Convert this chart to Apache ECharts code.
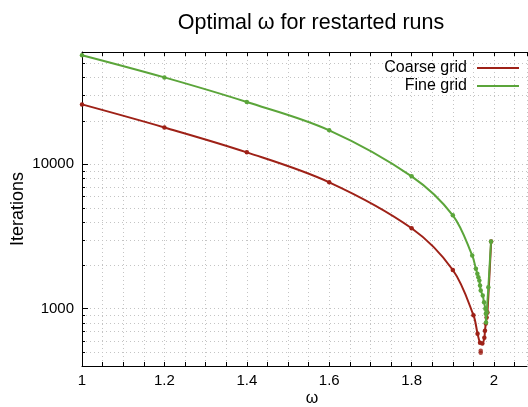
<!DOCTYPE html>
<html>
<head>
<meta charset="utf-8">
<script src="https://cdn.jsdelivr.net/npm/echarts@6/dist/echarts.min.js"></script>
<style>
html,body{margin:0;padding:0;background:#fff;}
#c{width:528px;height:407px;}
</style>
</head>
<body>
<div id="c"></div>
<script>
// ---- data ----
const coarseOmega = [1.0, 1.2, 1.4, 1.6, 1.8, 1.9, 1.95, 1.96, 1.966, 1.9716, 1.9765, 1.978, 1.98, 1.982, 1.984, 1.993];
const coarseIters = [26000, 18000, 12100, 7500, 3600, 1850, 900, 670, 580, 572, 629, 703, 787, 866, 938, 2920];
const coarseExtraOmega = [1.9677, 1.9677];
const coarseExtraIters = [494, 510];

const fineOmega = [1.0, 1.2, 1.4, 1.6, 1.8, 1.9, 1.947, 1.956, 1.9595, 1.962, 1.9643, 1.966, 1.9677, 1.9726, 1.9757, 1.9789, 1.980, 1.9806, 1.9823, 1.9862, 1.9927];
const fineIters = [57000, 40000, 27000, 17200, 8250, 4430, 2334, 1887, 1741, 1649, 1563, 1445, 1334, 1231, 1106, 998, 919, 800, 943, 1406, 2920];

const xTickLabels = ['1', '1.2', '1.4', '1.6', '1.8', '2'];
const yTickLabels = ['1000', '10000'];
const yMinorValues = [500, 600, 700, 800, 900, 2000, 3000, 4000, 5000, 6000, 7000, 8000, 9000, 20000, 30000, 40000, 50000];

const titleText = 'Optimal ω for restarted runs';
const xName = 'ω';
const yName = 'Iterations';
const coarseName = 'Coarse grid';
const fineName = 'Fine grid';

// ---- styling ----
const RED = '#9e2117';
const GREEN = '#5ba53a';
const FONT = 'Liberation Sans, Arial, sans-serif';
const XMIN = 1, XMAX = 2.08, YMIN = 400, YMAX = 60000;

const zip = (a, b) => a.map((v, i) => [v, b[i]]);
const isMajorX = v => Math.abs(v * 5 - Math.round(v * 5)) < 1e-6;

const gridStyle = { color: '#c4c4c4', width: 1, type: [1, 3] };

const chart = echarts.init(document.getElementById('c'));
chart.setOption({
  animation: false,
  backgroundColor: '#fff',
  title: {
    text: titleText,
    left: 306, top: 7, textAlign: 'center',
    textStyle: { fontFamily: FONT, fontSize: 21.5, fontWeight: 'normal', color: '#000' }
  },
  legend: [
    {
      data: [coarseName], right: 9, top: 60, orient: 'vertical', align: 'right',
      padding: 0, itemWidth: 42, itemHeight: 2, icon: 'rect',
      textStyle: { fontFamily: FONT, fontSize: 16, color: '#000', padding: [0, 5, 0, 0] }
    },
    {
      data: [fineName], right: 9, top: 78, orient: 'vertical', align: 'right',
      padding: 0, itemWidth: 42, itemHeight: 2, icon: 'rect',
      textStyle: { fontFamily: FONT, fontSize: 16, color: '#000', padding: [0, 5, 0, 0] }
    }
  ],
  grid: { left: 82, right: 1, top: 52, bottom: 41, containLabel: false, outerBoundsMode: 'none' },
  xAxis: [
    {
      type: 'value', position: 'bottom', min: XMIN, max: XMAX, interval: 0.05,
      name: xName, nameLocation: 'middle', nameGap: 25, nameMoveOverlap: false,
      nameTextStyle: { fontFamily: FONT, fontSize: 16, color: '#000', padding: [0, 0, 0, 15] },
      axisLine: { show: true, lineStyle: { color: '#000', width: 1 } },
      axisTick: { show: true, inside: true, length: 4, lineStyle: { color: '#000' } },
      axisLabel: {
        fontFamily: FONT, fontSize: 15, color: '#000', margin: 7,
        showMaxLabel: false,
        formatter: v => {
          if (!isMajorX(v) || v > 2.0001) return '';
          const i = Math.round((v - 1) * 5);
          return xTickLabels[i] || '';
        }
      },
      splitLine: { show: true, lineStyle: gridStyle }
    },
    {
      type: 'value', position: 'top', min: XMIN, max: XMAX, interval: 0.05,
      axisLine: { show: true, lineStyle: { color: '#000', width: 1 } },
      axisTick: { show: true, inside: true, length: 4, lineStyle: { color: '#000' } },
      axisLabel: { show: false },
      splitLine: { show: false }
    }
  ],
  yAxis: {
    type: 'log', logBase: 10, min: YMIN, max: YMAX,
    name: yName, nameLocation: 'middle', nameGap: 55, nameRotate: 90, nameMoveOverlap: false,
    nameTextStyle: { fontFamily: FONT, fontSize: 18, color: '#000' },
    axisLine: { show: true, lineStyle: { color: '#000', width: 1 } },
    axisTick: { show: true, inside: true, length: 6, lineStyle: { color: '#000' } },
    axisLabel: {
      fontFamily: FONT, fontSize: 15, color: '#000', margin: 8,
      formatter: v => {
        const s = String(Math.round(v));
        return yTickLabels.indexOf(s) >= 0 ? s : '';
      }
    },
    splitLine: { show: true, lineStyle: gridStyle }
  },
  series: [
    {
      type: 'custom', name: 'yMinor', silent: true, z: 0,
      data: yMinorValues.map(v => [XMIN, v]),
      renderItem: (params, api) => {
        const v = api.value(1);
        const cs = params.coordSys;
        const y = Math.round(api.coord([XMIN, v])[1]) + 0.5;
        return {
          type: 'group',
          children: [
            { type: 'line', shape: { x1: cs.x, y1: y, x2: cs.x + cs.width, y2: y },
              style: { stroke: gridStyle.color, lineWidth: 1, lineDash: [1, 3] } },
            { type: 'line', shape: { x1: cs.x, y1: y, x2: cs.x + 3, y2: y },
              style: { stroke: '#000', lineWidth: 1 } }
          ]
        };
      }
    },
    {
      type: 'line', name: coarseName, data: zip(coarseOmega, coarseIters),
      smooth: 0.35,
      symbol: 'circle', symbolSize: 4.5, showSymbol: true,
      lineStyle: { color: RED, width: 2 }, itemStyle: { color: RED }, z: 3
    },
    {
      type: 'scatter', name: coarseName + ' extra', data: zip(coarseExtraOmega, coarseExtraIters),
      symbol: 'circle', symbolSize: 4.5, itemStyle: { color: RED }, z: 3
    },
    {
      type: 'line', name: fineName, data: zip(fineOmega, fineIters),
      smooth: 0.35,
      symbol: 'circle', symbolSize: 4.5, showSymbol: true,
      lineStyle: { color: GREEN, width: 2 }, itemStyle: { color: GREEN }, z: 4
    }
  ]
});
</script>
</body>
</html>
